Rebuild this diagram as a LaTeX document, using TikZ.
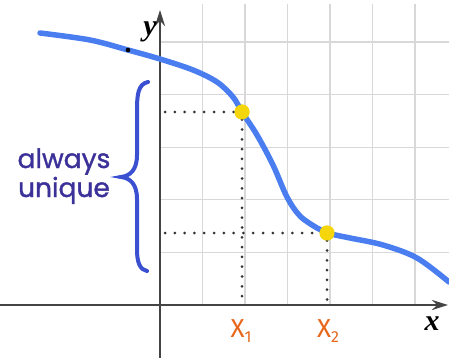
\documentclass[tikz,border=0pt]{standalone}
\usepackage{fontspec}
\setmainfont{Liberation Serif}
\newfontfamily\labfont[FakeBold=1.2]{Poppins}
\newfontfamily\subfont{Fira Sans}
\usetikzlibrary{arrows.meta}
\definecolor{gridc}{HTML}{D8D8D8}
\definecolor{axisc}{HTML}{444444}
\definecolor{curvec}{HTML}{4A7EF0}
\definecolor{bracec}{HTML}{3A50D0}
\definecolor{textc}{HTML}{3B3199}
\definecolor{orangec}{HTML}{E8671A}
\definecolor{ptc}{HTML}{F5D60A}
\tikzset{
  gridline/.style={gridc, line width=1.3pt},
  axisline/.style={axisc, line width=2.6pt, -{Stealth[length=16pt,width=10pt]}},
  dotline/.style={black!80, line width=3pt, line cap=round, dash pattern=on 0pt off 9.8pt},
  curveline/.style={curvec, line width=5.5pt, line cap=round},
  ptstyle/.style={circle, fill=ptc, inner sep=0pt, minimum size=15pt},
  axislabel/.style={font=\fontsize{30}{30}\selectfont\bfseries\itshape, inner sep=0pt},
  xlab/.style={orangec, font=\subfont\fontsize{26}{26}\selectfont, inner sep=0pt},
  sidetext/.style={textc, font=\labfont\fontsize{26.5}{30}\selectfont, inner sep=0pt},
}
\begin{document}
\begin{tikzpicture}[x=1pt, y=-1pt]
\useasboundingbox (0,0) rectangle (449,358);
\fill[white] (0,0) rectangle (449,358);
% grid
\foreach \gx in {202.5,245,287.5,330,372.5,415}
  \draw[gridline] (\gx,4) -- (\gx,305);
\foreach \gy in {42,94.6,147.2,199.8,252.4}
  \draw[gridline] (160,\gy) -- (449,\gy);
% axes
\coordinate (ybot) at (160,358);
\coordinate (ytop) at (160,10);
\coordinate (xleft) at (0,305);
\coordinate (xright) at (448,305);
\draw[axisline] (ybot) -- (ytop);
\draw[axisline] (xleft) -- (xright);
\node[axislabel] (ylab) at (150,32) {y};
\node[axislabel] (xlab) at (432,324) {x};
% points
\node[ptstyle] (p1) at (242,112) {};
\node[ptstyle] (p2) at (327,233) {};
\coordinate (p1y) at (165,112);
\coordinate (p1x) at (242,305);
\coordinate (p2y) at (165,233);
\coordinate (p2x) at (327,305);
\draw[dotline] (p1y) -- (p1.west);
\draw[dotline] (p1.south) -- (p1x);
\draw[dotline] (p2y) -- (p2.west);
\draw[dotline] (p2.south) -- (p2x);
% curve
\coordinate (dotpt) at (128,50);
\draw[curveline] plot[smooth, tension=0.55] coordinates {(40,33) (90,40) (dotpt) (160,59) (193,70) (217,82) (233,97) (242,112) (257,135) (273,165) (287,197) (300,216) (317,228) (327,233) (350,238) (383,245) (417,258) (449,282)};
\node[ptstyle] at (242,112) {};
\node[ptstyle] at (327,233) {};
\fill[black] (dotpt) circle (2.3pt);
% labels
\node[xlab] (x1) at (241,331) {X\raisebox{-5pt}{\fontsize{16}{16}\selectfont 1}};
\node[xlab] (x2) at (328,331) {X\raisebox{-5pt}{\fontsize{16}{16}\selectfont 2}};
% brace
\draw[bracec, line width=4pt, line cap=round]
  (148,82) .. controls (138,84) and (137,95) .. (137,110)
  -- (137,155) .. controls (137,170) and (130,176) .. (121,177)
  .. controls (130,178) and (137,184) .. (137,199)
  -- (137,250) .. controls (137,262) and (140,270) .. (147,271);
\node[sidetext, anchor=base] (t1) at (64,168) {always};
\node[sidetext, anchor=base] (t2) at (64,197) {unique};
\end{tikzpicture}
\end{document}
